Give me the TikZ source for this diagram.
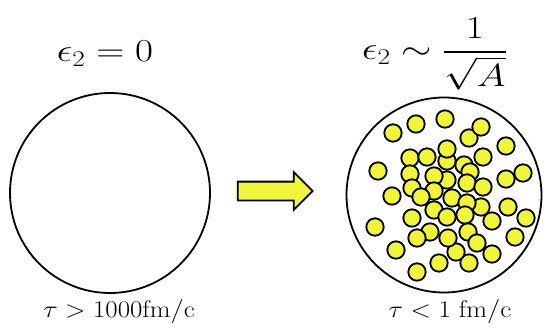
\RequirePackage{fix-cm}
\documentclass[tikz,border=0pt]{standalone}
\usepackage{amsmath,amssymb}
\usepackage{xcolor}
\usetikzlibrary{shapes.arrows,positioning}

\definecolor{nucl}{RGB}{240,245,60}

\begin{document}
\begin{tikzpicture}[
        x=1pt, y=-1pt,
        bigdisc/.style={draw, circle, line width=1.8pt, minimum size=200pt, inner sep=0pt},
        nucleon/.style={fill=nucl, draw=black, line width=1.8pt},
        toplab/.style={font=\fontsize{32}{36}\selectfont, inner sep=0pt,
            xscale=1.22, transform shape},
        botlab/.style={font=\fontsize{24}{28}\selectfont, anchor=base, inner sep=0pt,
            xscale=1.12, transform shape},
        fatarr/.style={single arrow, draw, line width=1.8pt, fill=nucl, minimum height=75pt,
            minimum width=36pt, single arrow head extend=9.5pt, inner sep=8.5pt}
    ]
        \useasboundingbox (0,0) rectangle (547,329);
        \node[bigdisc] (before) at (110,193) {};
        \node[bigdisc, minimum size=195pt] (after) at (444,195) {};
        \node[fatarr] (arr) at (270.5,191) {};
        % nucleons inside the nucleus
        \foreach \px/\py in {393/133, 416/124, 445/119, 469/138, 481/127, 506/146,
                378/171, 392/196, 375/227, 396/250, 417/272, 439/263, 469/263,
                492/254, 515/237, 526/218, 508/207, 523/173, 506/179, 456/252,
                492/221, 447/161, 447/149, 410/158, 427/157, 464/165, 470/172,
                483/157, 410/174, 447/180, 434/176, 434/191, 412/188, 421/197,
                467/183, 483/187, 452/198, 481/207, 467/203, 434/210, 465/215,
                447/217, 412/218, 430/232, 468/232, 417/238, 448/238, 477/243}
            \draw[nucleon] (\px,\py) circle (8.7pt);
        \node[toplab, anchor=base] (epsl) at (105,62) {$\epsilon_2 = 0$};
        \node[toplab, anchor=base west] (epsr) at (362,60) {$\epsilon_2 \sim \dfrac{1}{\sqrt{A}}$};
        \node[botlab] (taul) at (119,317) {$\tau > 1000\mathrm{fm/c}$};
        \node[botlab] (taur) at (450,317) {$\tau < 1\ \mathrm{fm/c}$};
    \end{tikzpicture}
\end{document}
